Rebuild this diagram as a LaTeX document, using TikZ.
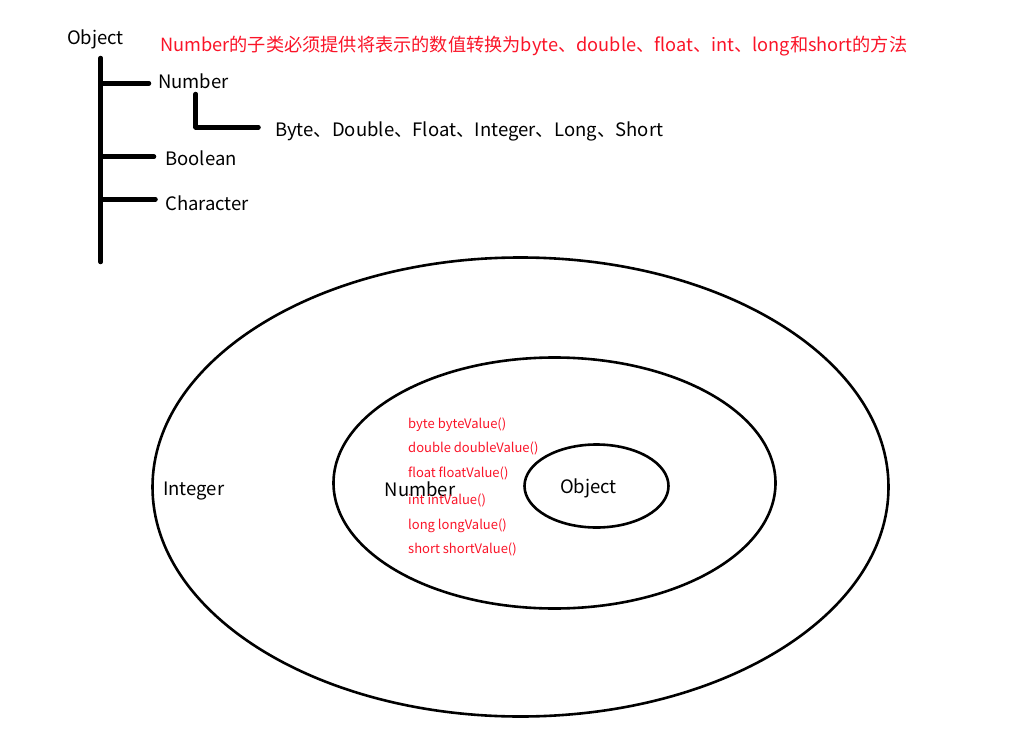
\documentclass[tikz,border=0pt]{standalone}
\usepackage{fontspec}
\setmainfont{Noto Sans CJK SC}
\definecolor{redtxt}{RGB}{250,20,40}
\begin{document}
\begin{tikzpicture}[x=1pt,y=-1pt,
  bar/.style={line width=4.5pt,line cap=round},
  ring/.style={draw,line width=2.6pt},
  lbl/.style={anchor=base west,inner sep=0pt,font=\fontsize{18.5}{20}\selectfont},
  title/.style={anchor=base west,inner sep=0pt,text=redtxt,font=\fontsize{18.2}{20}\selectfont},
  meth/.style={anchor=base west,inner sep=0pt,text=redtxt,font=\fontsize{13}{15}\selectfont}
]
\useasboundingbox (0,0) rectangle (1009,749);

% tree
\node[lbl] (obj) at (67,45) {Object};
\node[title] (ttl) at (160,51.7) {Number的子类必须提供将表示的数值转换为byte、double、float、int、long和short的方法};
\node[lbl] (num) at (158,89) {Number};
\node[lbl] (sub) at (275,136) {Byte、Double、Float、Integer、Long、Short};
\node[lbl] (bool) at (165,165.5) {Boolean};
\node[lbl] (chr) at (165,210) {Character};

\coordinate (vt) at (100.7,58);
\coordinate (vb) at (100.7,262);
\coordinate (j1) at (100.7,83.3);
\coordinate (e1) at (149,83.3);
\coordinate (j2) at (100.7,156.7);
\coordinate (e2) at (154,156.7);
\coordinate (j3) at (100.7,199.3);
\coordinate (e3) at (155.5,199.3);
\coordinate (nt) at (195.7,94);
\coordinate (nc) at (195.7,127.3);
\coordinate (ne) at (258.5,127.3);

\draw[bar] (vt) -- (vb);
\draw[bar] (j1) -- (e1);
\draw[bar] (j2) -- (e2);
\draw[bar] (j3) -- (e3);
\draw[bar,line join=round] (nt) -- (nc) -- (ne);

% ellipses
\draw[ring] (520.5,487) ellipse [x radius=368, y radius=229.5];
\draw[ring] (554.5,483) ellipse [x radius=221, y radius=125.5];
\draw[ring] (596.5,486) ellipse [x radius=72, y radius=41.5];

\node[lbl] (integer) at (163,495) {Integer};
\node[lbl] (num2) at (384.5,496.7) {Number};
\node[lbl] (obj2) at (560,493.3) {Object};

\node[meth] (m1) at (408,428.3) {byte byteValue()};
\node[meth] (m2) at (408,452.7) {double doubleValue()};
\node[meth] (m3) at (408,477.7) {float floatValue()};
\node[meth] (m4) at (408,504) {int intValue()};
\node[meth] (m5) at (408,529) {long longValue()};
\node[meth] (m6) at (408,553.3) {short shortValue()};
\end{tikzpicture}
\end{document}
